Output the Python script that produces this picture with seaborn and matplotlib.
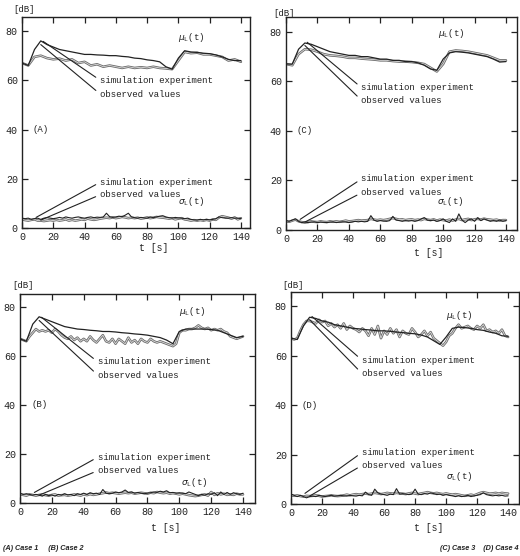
import matplotlib
matplotlib.use("Agg")
import matplotlib.pyplot as plt
import matplotlib.patheffects as pe
import seaborn as sns

# ---- data ----
t_coarse = list(range(0, 141, 4))   # 36 samples, smooth curves
t_fine = list(range(0, 141, 2))     # 71 samples, jagged curves

# Case 1 (A)
a_mu_sim = [67, 66, 72.5, 76, 74.5, 73.5, 72.5, 72, 71.5, 71, 70.5, 70.5, 70.3, 70.2, 70, 70,
            69.7, 69.5, 69, 68.8, 68.3, 68, 67.5, 65.5, 64.5, 69, 72, 71.5, 71.3, 71, 70.8, 70.3,
            69.5, 68.5, 68, 68]
a_mu_obs = [67, 66, 69.5, 70, 69, 68.5, 68.8, 68, 68.5, 67, 67.5, 66, 66.5, 65.5, 66, 65.5,
            65, 65.5, 65, 65.3, 65, 65.5, 65, 64.8, 64.5, 68, 71.5, 71, 71.2, 70.5, 70.5, 70,
            69.5, 68, 68.5, 67.5]
a_sig_sim = [4, 3.8, 4, 3.5, 3.8, 4,
             3.5, 4, 4.2, 4, 3.8, 4, 4.3, 4, 4.5, 4.2,
             4, 4.3, 4.5, 4.2, 4, 4.3, 4.5, 4.2, 4.4, 4.3,
             4.5, 6, 4.6, 4.3, 4.5, 4.8, 4.6, 5.2, 6, 4.5,
             4.2, 4, 4.3, 4.1, 4, 4.5, 4.2, 4.5, 4.8, 5,
             4.5, 4.2, 4, 4.3, 4.1, 4, 3.8, 4, 3.5, 3.3,
             3.2, 3.5, 3.3, 3.5, 3.3, 3.5, 3.8, 4.5, 4.2, 4,
             4, 4.2, 4, 4, 3.8]
a_sig_obs = [3.5, 3.2, 3, 3.3, 3.5, 3,
             3, 2.8, 3, 3.2, 3, 3.3, 3, 3.2, 3.5, 3,
             3.3, 3, 3.2, 3.5, 3.3, 3.8, 3.5, 3.3, 3.5, 3.8,
             4, 4.2, 4, 4.3, 4, 4.2, 4.5, 4.3, 4, 4.2,
             4, 4.2, 3.8, 4, 4.3, 4, 4.2, 4.5, 4.3, 4.2,
             4, 3.8, 4, 3.5, 3.8, 4, 3.5, 3.3, 3, 3.2,
             3, 3.2, 3, 3.3, 3, 3.5, 3.3, 4.3, 4.8, 4.5,
             4.2, 3.8, 4.3, 3.5, 4]

# Case 2 (B)
b_mu_sim = [67, 66, 73, 76, 75, 74, 73, 72, 71.5, 71, 70.8, 70.5, 70.3, 70, 70, 69.8,
            69.5, 69.3, 69, 68.8, 68.5, 68, 67.5, 66.5, 65, 70, 71, 71, 71, 71, 70.8, 70.5,
            69.5, 68.5, 67.5, 68]
b_mu_obs = [67, 66.5, 66, 68, 69.5, 71,
            70, 70.5, 70, 70.5, 69.5, 71, 70, 68.5, 67.5, 67,
            68, 66.5, 67.5, 66, 67, 66, 68, 66.5, 65.5, 67,
            68.5, 66, 65.5, 67, 65, 67, 66, 65, 67.5, 65.5,
            66.5, 65, 67, 66, 65.5, 67, 66, 65.5, 66, 65.5,
            65, 64.5, 64, 65, 69.5, 70.5, 70.5, 71, 71, 71.5,
            72.5, 71.5, 71, 71.5, 70.5, 71, 70.5, 71, 70, 69.5,
            68, 67.5, 67, 67.5, 68]
b_sig_sim = [4, 3.5, 3.8, 3.5, 3.2, 3.5,
             3.2, 2.8, 3.5, 3, 3.3, 2.8, 3.5, 3.2, 3.8, 3.3,
             3.5, 3, 3.8, 3.5, 4, 3.5, 4.2, 3.8, 4, 3.5,
             5.5, 4, 3.8, 4, 4.5, 4.2, 4.5, 5.3, 4.3, 4.5,
             4, 4.3, 4, 3.8, 4, 4.2, 4.5, 4.3, 4.8, 4.5,
             5, 4.2, 4.3, 4, 4.2, 4, 3.8, 4.5, 4, 3.5,
             3, 3.5, 3.2, 3.8, 3.5, 4.2, 3, 4.5, 3.5, 4.3,
             3.5, 4.2, 3.8, 3.5, 4]
b_sig_obs = [3.5, 3.3, 3, 3.5, 3.3, 3,
             3.3, 3.5, 3.2, 3, 3.3, 3.5, 3, 3.2, 3.3, 3,
             3.2, 3.5, 3.3, 3, 3.5, 3.2, 3.6, 3.3, 3.5, 3.8,
             4, 4.3, 4, 4.2, 4, 3.8, 4, 4.2, 4, 4.2,
             3.8, 4, 4.2, 4, 3.8, 4.2, 4, 4.5, 4.2, 4,
             4.2, 3.8, 4, 3.8, 3.5, 3.8, 3.5, 3.2, 3, 2.8,
             3, 3.3, 3.5, 3, 4.5, 3.3, 4, 3.5, 3.8, 3.3,
             3.5, 3.3, 3.8, 3.5, 3.5]

# Case 3 (C)
c_mu_sim = [67, 67, 73, 75.5, 75, 74, 73, 72, 71.5, 71, 70.5, 70.5, 70, 70, 69.5, 69,
            69, 68.5, 68.5, 68, 68, 67.5, 66.5, 65, 64.5, 69, 71.5, 72, 71.8, 71.5, 71, 70.5,
            70, 69, 67.8, 68]
c_mu_obs = [67, 66.5, 71, 73, 72.8, 72, 71, 70.5, 70.3, 70, 69.5, 69.5, 69.2, 69, 68.8, 68.5,
            68.5, 68.2, 68, 68, 67.8, 67.5, 67, 65.5, 64, 67, 72, 72.5, 72.3, 72, 71.5, 71,
            70.5, 69.5, 68.5, 68.5]
c_sig_sim = [3.8, 3.5, 4, 4.5, 3.5, 3,
             3.2, 3, 3.2, 3.3, 3, 3.2, 3.1, 3, 3.2, 3.3,
             3, 3.2, 3.3, 3.2, 3, 3.2, 3.5, 3.3, 3.5, 3.3,
             3.5, 5.8, 4, 3.5, 3.8, 3.6, 3.5, 3.8, 5.5, 4,
             3.8, 3.5, 3.8, 3.6, 3.8, 3.5, 3.8, 4.5, 5, 4,
             3.8, 4, 3.5, 3.8, 4.5, 3.5, 3, 4.5, 3.5, 6.5,
             4, 3, 4, 4.5, 3.5, 5, 3.8, 4.5, 4, 3.5,
             3.8, 3.5, 4, 3.5, 3.8]
c_sig_obs = [3.5, 3.3, 3.8, 4.2, 3.5, 3.2,
             3, 3.2, 3.5, 3.3, 3.2, 3.5, 3.3, 3.2, 3.5, 3.3,
             3.5, 3.3, 3.5, 3.8, 3.5, 3.6, 3.8, 4, 3.8, 3.9,
             4, 4.5, 4.2, 4, 4.2, 4, 4.2, 4.5, 4.8, 4.5,
             4.2, 4.3, 4, 4.2, 4.3, 4, 4.2, 4, 4.5, 4.2,
             4, 4.3, 3.8, 4.2, 4, 3.8, 4.2, 3.8, 4.2, 4.5,
             4, 4.3, 4.5, 4, 4.3, 4.5, 4.2, 4.6, 4.3, 4.2,
             4, 4.2, 3.8, 4, 4]

# Case 4 (D)
d_mu_sim = [67, 66.5, 72, 75.5, 75, 74, 73.5, 72.5, 72, 71.5, 71, 70.8, 70.5, 70.3, 70, 70,
            69.8, 69.5, 69.3, 69, 68.8, 68.3, 67.5, 66, 64.5, 67.5, 71, 71.5, 71.3, 71, 70.5, 70.2,
            69.5, 69, 68, 67.8]
d_mu_obs = [67, 66.5, 67, 70, 72.5, 74,
            74, 73.5, 73, 74.5, 73.5, 74, 72, 73, 71.5, 72.5,
            71, 73, 70.5, 72, 71, 70.5, 69.5, 71, 70, 68,
            71, 68.5, 72, 67, 70, 68.5, 71, 69, 70.5, 67.5,
            70, 69, 68.5, 71, 69.5, 67.5, 68.5, 70, 68, 69.5,
            67, 66, 65, 64, 65.5, 68, 69, 71, 72.5, 71,
            71.5, 72, 71, 70.5, 72, 71, 72.5, 70, 70.5, 69.5,
            70, 69, 70.5, 68, 67.5]
d_sig_sim = [4, 3.5, 3, 3.5, 3, 2.5,
             3, 3.2, 3, 3.5, 3.2, 3, 3.3, 3.5, 3.2, 3.3,
             3.5, 3.3, 3.2, 3.5, 3.3, 3.2, 3.5, 3.3, 4.8, 3.8,
             3.5, 6, 4.5, 4, 3.8, 3.5, 4, 3.8, 6.2, 4,
             4.2, 4, 3.8, 4, 6, 4, 3.8, 4.2, 4, 4.5,
             4.2, 3.8, 4, 3.5, 3.8, 3.5, 3.3, 3, 3.3, 3,
             3.2, 3.5, 3, 3.3, 3.5, 3.8, 4.5, 3.8, 3.5, 3.3,
             3.5, 3.3, 3.5, 3.2, 3.3]
d_sig_obs = [3.5, 3.3, 3.5, 3.2, 3, 3.3,
             3.2, 3.3, 3.5, 3.3, 3, 3.2, 3.3, 3.5, 3.3, 3.2,
             3.3, 3.5, 3.8, 3.5, 3.8, 4, 3.8, 4, 4.2, 4,
             4.2, 4.5, 4.3, 4, 4.2, 4.5, 4.3, 4.2, 4.5, 4.3,
             4.2, 4, 4.3, 4.5, 4.2, 4, 4.3, 4.5, 4.8, 4.5,
             4.3, 4.5, 4.2, 4, 4.3, 4, 3.8, 4, 3.8, 3.5,
             3.3, 3.5, 3.8, 3.5, 4, 4.5, 4.8, 4.5, 4.2, 4.3,
             4.5, 4.2, 4.5, 4.3, 4.2]

x_ticks = [0, 20, 40, 60, 80, 100, 120, 140]
y_ticks = [0, 20, 40, 60, 80]
captions = ["(A) Case 1     (B) Case 2", "(C) Case 3    (D) Case 4"]

# ---- layout (pixel boxes on a 520x556 canvas) ----
W, H = 520, 556
panels = [
    dict(tag="(A)", box=(22, 17, 250, 228), xmax=145.8, ymax=85.7,
         mu=(t_coarse, a_mu_sim, t_coarse, a_mu_obs), sig=(a_sig_sim, a_sig_obs),
         txt_x=50, txt_y=(60, 54.4, 18.6, 13.5), mu_lab=(100, 77.5), sig_lab=(100, 10.8),
         db=(13, 9), tlab=(154, 248)),
    dict(tag="(C)", box=(286, 17, 517, 230), xmax=147, ymax=86,
         mu=(t_coarse, c_mu_sim, t_coarse, c_mu_obs), sig=(c_sig_sim, c_sig_obs),
         txt_x=48, txt_y=(57.5, 52.4, 20.6, 15), mu_lab=(97, 79.3), sig_lab=(96, 11.4),
         db=(273, 13), tlab=(429, 253)),
    dict(tag="(B)", box=(20, 294, 255, 503), xmax=147.5, ymax=85.3,
         mu=(t_coarse, b_mu_sim, t_fine, b_mu_obs), sig=(b_sig_sim, b_sig_obs),
         txt_x=48.8, txt_y=(57.6, 52.2, 18.7, 13.2), mu_lab=(99.5, 78), sig_lab=(101, 8.5),
         db=(12, 286), tlab=(166, 528)),
    dict(tag="(D)", box=(291, 292, 519, 504), xmax=147, ymax=85.7,
         mu=(t_coarse, d_mu_sim, t_fine, d_mu_obs), sig=(d_sig_sim, d_sig_obs),
         txt_x=45.7, txt_y=(58.2, 52.8, 20.8, 15.6), mu_lab=(100, 76.4), sig_lab=(100, 11.2),
         db=(282, 286), tlab=(429, 528)),
]

sns.set_style("ticks")
plt.rcParams["font.family"] = ["Liberation Mono", "DejaVu Sans Mono"]
plt.rcParams["mathtext.fontset"] = "custom"
plt.rcParams["mathtext.rm"] = "Liberation Mono"

INK = "#222222"
GRAY = "#8c8c8c"
OUTLINE = [pe.Stroke(linewidth=1.8, foreground="#6a6a6a"), pe.Stroke(linewidth=0.6, foreground="#dcdcdc")]
TXT = dict(fontsize=6.5, color=INK)

fig = plt.figure(figsize=(W / 100, H / 100), dpi=100)


def fx(x):
    return x / W


def fy(y):
    return 1 - y / H


for p in panels:
    x0, y0, x1, y1 = p["box"]
    ax = fig.add_axes([fx(x0), fy(y1), (x1 - x0) / W, (y1 - y0) / H])
    t_sim, mu_sim, t_obs, mu_obs = p["mu"]
    sig_sim, sig_obs = p["sig"]

    sns.lineplot(x=t_obs, y=mu_obs, ax=ax, color=GRAY, lw=1.0, path_effects=OUTLINE,
                 errorbar=None)
    sns.lineplot(x=t_sim, y=mu_sim, ax=ax, color=INK, lw=0.9, errorbar=None)
    sns.lineplot(x=t_fine, y=sig_obs, ax=ax, color=GRAY, lw=1.0, path_effects=OUTLINE,
                 errorbar=None)
    sns.lineplot(x=t_fine, y=sig_sim, ax=ax, color=INK, lw=0.8, errorbar=None)

    ax.set_xlim(0, p["xmax"])
    ax.set_ylim(0, p["ymax"])
    ax.set_xticks(x_ticks)
    ax.set_yticks(y_ticks)
    ax.set_xlabel("")
    ax.set_ylabel("")
    ax.tick_params(direction="in", length=4, width=0.9, top=True, right=True,
                   labelsize=7.2, colors=INK, pad=3)
    for s in ax.spines.values():
        s.set_linewidth(1.0)
        s.set_color(INK)

    # leader-line labels: lines run from the start of each label to the curves
    tx = p["txt_x"]
    sy, oy, ssy, soy = p["txt_y"]
    lead = dict(arrowstyle="-", color=INK, lw=0.8, shrinkA=1, shrinkB=0, relpos=(0, 0.5))
    ax.annotate("simulation experiment", xy=(13.5, 75.8), xytext=(tx, sy),
                va="center", ha="left", arrowprops=lead, **TXT)
    ax.annotate("observed values", xy=(12, 74.5), xytext=(tx, oy),
                va="center", ha="left", arrowprops=lead, **TXT)
    ax.annotate("simulation experiment", xy=(9, 4.3), xytext=(tx, ssy),
                va="center", ha="left", arrowprops=lead, **TXT)
    ax.annotate("observed values", xy=(12, 3.2), xytext=(tx, soy),
                va="center", ha="left", arrowprops=lead, **TXT)

    ax.text(*p["mu_lab"], r"$\mu_\mathrm{L}$(t)", ha="left", va="center", **TXT)
    ax.text(*p["sig_lab"], r"$\sigma_\mathrm{L}$(t)", ha="left", va="center", **TXT)
    ax.text(7, 40, p["tag"], ha="left", va="center", **TXT)

    fig.text(fx(p["db"][0]), fy(p["db"][1]), "[dB]", ha="left", va="center", fontsize=6.5, color=INK)
    fig.text(fx(p["tlab"][0]), fy(p["tlab"][1]), "t [s]", ha="center", va="center", fontsize=7, color=INK)

fig.text(fx(3), fy(548), captions[0], ha="left", va="center", fontsize=5.2,
         style="italic", weight="bold", family="Liberation Sans", color=INK)
fig.text(fx(518), fy(548), captions[1], ha="right", va="center", fontsize=5.2,
         style="italic", weight="bold", family="Liberation Sans", color=INK)

fig.savefig("out.png", dpi=100, facecolor="white")
